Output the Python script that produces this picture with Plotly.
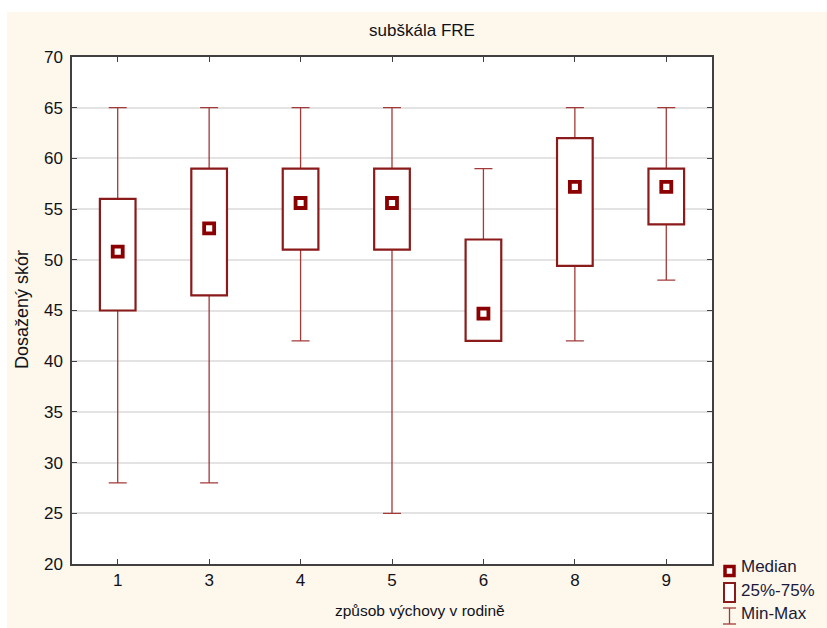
import plotly.graph_objects as go

# Box-plot summary of the FRE subscale by parenting style
categories = ["1", "3", "4", "5", "6", "8", "9"]
minimum = [28, 28, 42, 25, 42, 42, 48]
q1 = [45, 46.5, 51, 51, 42, 49.4, 53.5]
median = [50.8, 53.1, 55.6, 55.6, 44.7, 57.2, 57.2]
q3 = [56, 59, 59, 59, 52, 62, 59]
maximum = [65, 65, 65, 65, 59, 65, 65]

BOX_RED = "#8B1A1A"
WHISKER_RED = "#A33A3A"
MEDIAN_RED = "#8B0000"
CREAM = "#FEF8EC"
TEXT = "#111118"
FONT = "Liberation Sans, Arial, sans-serif"

# plot-area geometry in pixels (used only to place the hand-made legend)
W, H = 827, 628
L, R, T, B = 72, 115, 57, 64
pw, ph = W - L - R, H - T - B


def px(x):
    return (x - L) / pw


def py(y):
    return (H - B - y) / ph


fig = go.Figure()

# min-max whiskers: zero-height bars carrying asymmetric error bars
fig.add_trace(go.Bar(
    x=categories,
    base=median,
    y=[0] * len(categories),
    width=0.39,
    marker=dict(color="rgba(0,0,0,0)", line=dict(width=0)),
    error_y=dict(
        type="data", symmetric=False,
        array=[mx - m for mx, m in zip(maximum, median)],
        arrayminus=[m - mn for m, mn in zip(median, minimum)],
        color=WHISKER_RED, thickness=1.3, width=9,
    ),
    hoverinfo="skip",
    showlegend=False,
))

# 25%-75% boxes
fig.add_trace(go.Bar(
    x=categories,
    base=q1,
    y=[b - a for a, b in zip(q1, q3)],
    width=0.39,
    marker=dict(color="white", line=dict(color=BOX_RED, width=2.2)),
    showlegend=False,
))

# medians
fig.add_trace(go.Scatter(
    x=categories,
    y=median,
    mode="markers",
    marker=dict(symbol="square", size=10, color="white",
                line=dict(color=MEDIAN_RED, width=3.8)),
    showlegend=False,
))

shapes = [
    # white page strips around the cream panel
    dict(type="rect", xref="paper", yref="paper", layer="below",
         x0=px(-10), x1=px(W + 10), y0=py(12), y1=py(-10),
         fillcolor="white", line=dict(width=0)),
    dict(type="rect", xref="paper", yref="paper", layer="below",
         x0=px(-10), x1=px(7), y0=py(H + 10), y1=py(-10),
         fillcolor="white", line=dict(width=0)),
    # legend glyphs
    dict(type="rect", xref="paper", yref="paper",
         x0=px(725), x1=px(734), y0=py(575.5), y1=py(566.5),
         fillcolor="white", line=dict(color=MEDIAN_RED, width=3.5)),
    dict(type="rect", xref="paper", yref="paper",
         x0=px(724), x1=px(735), y0=py(602), y1=py(583),
         fillcolor="white", line=dict(color=BOX_RED, width=2)),
    dict(type="line", xref="paper", yref="paper",
         x0=px(729.5), x1=px(729.5), y0=py(624), y1=py(608),
         line=dict(color=WHISKER_RED, width=1.3)),
    dict(type="line", xref="paper", yref="paper",
         x0=px(723), x1=px(736), y0=py(608), y1=py(608),
         line=dict(color=WHISKER_RED, width=1.3)),
    dict(type="line", xref="paper", yref="paper",
         x0=px(723), x1=px(736), y0=py(624), y1=py(624),
         line=dict(color=WHISKER_RED, width=1.3)),
]

legend_labels = [("Median", 566), ("25%-75%", 590), ("Min-Max", 613)]
annotations = [
    dict(text=t, xref="paper", yref="paper", x=px(739), y=py(yc),
         xanchor="left", yanchor="middle", showarrow=False,
         font=dict(family=FONT, size=17, color="#1a1a3a"))
    for t, yc in legend_labels
]
annotations += [
    dict(text="způsob výchovy v rodině", xref="paper", yref="paper",
         x=px(420), y=py(610), xanchor="center", yanchor="middle",
         showarrow=False, font=dict(family=FONT, size=15.5, color=TEXT)),
    dict(text="Dosažený skór", xref="paper", yref="paper",
         x=px(22), y=py(310), xanchor="center", yanchor="middle",
         textangle=-90, showarrow=False,
         font=dict(family=FONT, size=18, color=TEXT)),
]

axis_common = dict(
    showline=True, linecolor="#404040", linewidth=1.5, mirror="ticks",
    ticks="inside", ticklen=5, tickwidth=1.2, tickcolor="#404040",
    tickfont=dict(family=FONT, size=17, color=TEXT),
    zeroline=False,
)

fig.update_layout(
    width=W, height=H,
    margin=dict(l=L, r=R, t=T, b=B),
    paper_bgcolor=CREAM,
    plot_bgcolor="white",
    barmode="overlay",
    title=dict(text="subškála FRE", x=422 / W, xref="container", xanchor="center",
               y=1 - 30 / H, yref="container", yanchor="middle",
               font=dict(family=FONT, size=17, color=TEXT)),
    xaxis=dict(type="category", range=[-0.5, 6.5], showgrid=False,
               **axis_common),
    yaxis=dict(range=[20, 70], dtick=5, tick0=20, showgrid=True,
               gridcolor="#E3E3E3", gridwidth=1.5, ticklabelstandoff=4,
               **axis_common),
    shapes=shapes,
    annotations=annotations,
)

fig.write_html("out.html")
